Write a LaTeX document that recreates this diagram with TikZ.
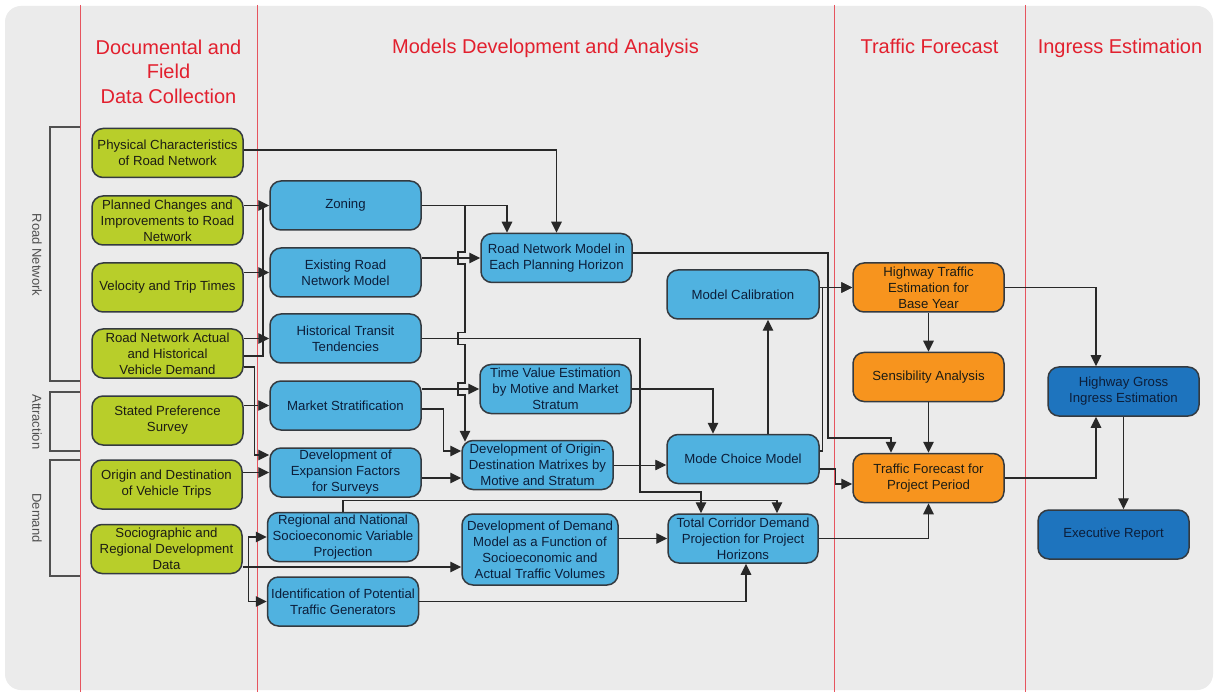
\documentclass[tikz,border=0pt]{standalone}
\usepackage{fontspec}
\setmainfont{Liberation Sans}
\usetikzlibrary{arrows.meta,calc}

\definecolor{panel}{RGB}{235,235,235}
\definecolor{lanered}{RGB}{230,84,94}
\definecolor{headred}{RGB}{226,32,46}
\definecolor{greenfill}{RGB}{184,206,42}
\definecolor{bluefill}{RGB}{80,178,224}
\definecolor{orangefill}{RGB}{247,148,30}
\definecolor{navyfill}{RGB}{30,116,190}
\definecolor{edge}{RGB}{52,58,64}
\definecolor{wire}{RGB}{40,40,40}
\definecolor{bracketgray}{RGB}{80,80,80}
\definecolor{textdark}{RGB}{28,28,20}
\definecolor{textnavy}{RGB}{12,30,58}

\tikzset{
  box/.style={draw=edge, line width=1.5pt, rounded corners=11pt,
    minimum width=151pt, minimum height=49pt, inner sep=0pt, align=center,
    font=\fontsize{13.2}{16}\selectfont},
  gbox/.style={box, fill=greenfill, text=textdark},
  bbox/.style={box, fill=bluefill, text=textnavy},
  obox/.style={box, fill=orangefill, text=textdark},
  nbox/.style={box, fill=navyfill, text=textnavy},
  headmulti/.style={text=headred, inner sep=0pt, align=center,
    font=\fontsize{20}{24.5}\selectfont},
  headone/.style={text=headred, inner sep=0pt, anchor=base,
    font=\fontsize{20}{24}\selectfont},
  side/.style={text=bracketgray, inner sep=0pt, rotate=-90,
    font=\fontsize{13}{16}\selectfont},
  lane/.style={draw=lanered, line width=1pt},
  brk/.style={draw=bracketgray, line width=1.2pt},
  wireline/.style={draw=wire, line width=1.3pt},
  arr/.style={wireline, -{Triangle[length=11pt,width=10.5pt]}},
  thinarr/.style={draw=wire, line width=0.8pt, -{Triangle[length=11pt,width=10.5pt]}},
}

\begin{document}
\begin{tikzpicture}[x=1pt, y=-1pt]
\useasboundingbox (0,0) rectangle (1215,692);
\fill[white] (0,0) rectangle (1215,692);
\fill[panel, rounded corners=16pt] (5,6) rectangle (1213,690);

% lane separators
\draw[lane] (80,5) -- (80,692);
\draw[lane] (257,5) -- (257,692);
\draw[lane] (834,5) -- (834,692);
\draw[lane] (1025,5) -- (1025,692);

% lane headings
\node[headmulti] (hdata) at (168.5,71.5) {Documental and\\Field\\Data Collection};
\node[headone] (hmodels) at (545.5,54) {Models Development and Analysis};
\node[headone] (hforecast) at (929.5,54) {Traffic Forecast};
\node[headone] (hingress) at (1120,54) {Ingress Estimation};

% category brackets
\draw[brk] (80,127) -- (50,127) -- (50,381) -- (80,381);
\draw[brk] (80,392) -- (50,392) -- (50,451) -- (80,451);
\draw[brk] (80,460) -- (50,460) -- (50,576) -- (80,576);
\node[side] (lroad) at (37,255) {Road Network};
\node[side] (lattr) at (37,422) {Attraction};
\node[side] (ldem) at (37,518) {Demand};

% data collection
\node[gbox] (g1) at (167.5,153) {Physical Characteristics\\of Road Network};
\node[gbox] (g2) at (167.5,220.5) {Planned Changes and\\Improvements to Road\\Network};
\node[gbox] (g3) at (167.5,287.5) {Velocity and Trip Times};
\node[gbox] (g4) at (167.5,353.5) {Road Network Actual\\and Historical\\Vehicle Demand};
\node[gbox] (g5) at (167.5,420.5) {Stated Preference\\Survey};
\node[gbox] (g6) at (166.5,484.5) {Origin and Destination\\of Vehicle Trips};
\node[gbox] (g7) at (166.5,549) {Sociographic and\\Regional Development\\Data};

% models: first column
\node[bbox] (b1) at (345.5,205.5) {Zoning};
\node[bbox] (b2) at (345.5,272.5) {Existing Road\\Network Model};
\node[bbox] (b3) at (345.5,338.5) {Historical Transit\\Tendencies};
\node[bbox] (b4) at (345.5,405.5) {Market Stratification};
\node[bbox] (b5) at (345.5,472.5) {Development of\\Expansion Factors\\for Surveys};
\node[bbox] (b6) at (343,537) {Regional and National\\Socioeconomic Variable\\Projection};
\node[bbox] (b7) at (343,601.5) {Identification of Potential\\Traffic Generators};

% models: second column
\node[bbox] (c1) at (556.5,258) {Road Network Model in\\Each Planning Horizon};
\node[bbox] (c2) at (555.5,389) {Time Value Estimation\\by Motive and Market\\Stratum};
\node[bbox] (c3) at (537.5,465) {Development of Origin-\\Destination Matrixes by\\Motive and Stratum};
\node[bbox, minimum width=156pt, minimum height=71pt] (c4) at (540,549.5)
  {Development of Demand\\Model as a Function of\\Socioeconomic and\\Actual Traffic Volumes};

% models: third column
\node[bbox, minimum width=152pt] (d1) at (743,294.5) {Model Calibration};
\node[bbox, minimum width=152pt] (d2) at (743,459) {Mode Choice Model};
\node[bbox, minimum width=150pt] (d3) at (743,538.5) {Total Corridor Demand\\Projection for Project\\Horizons};

% traffic forecast
\node[obox] (o1) at (928.5,287.5) {Highway Traffic\\Estimation for\\Base Year};
\node[obox] (o2) at (928.5,377) {Sensibility Analysis};
\node[obox] (o3) at (928.5,478) {Traffic Forecast for\\Project Period};

% ingress estimation
\node[nbox] (h1) at (1123.5,391.5) {Highway Gross\\Ingress Estimation};
\node[nbox] (h2) at (1113.5,534.5) {Executive Report};

% shared riser feeding the first three models
\coordinate (bus) at (263,205.5);

% data collection -> models
\draw[arr] ([yshift=3pt]g1.east) -| (c1.north);
\draw[arr] (g2.east |- b1.west) -- (b1.west);
\draw[arr] (g3.east |- b2.west) -- (b2.west);
\draw[arr] (g4.east |- b3.west) -- (b3.west);
\draw[wireline] ([yshift=-2.5pt]g4.east) -| (bus);
\draw[arr] ([yshift=-13.5pt]g4.east) -- ++(11,0) |- ([yshift=17.5pt]b5.west);
\draw[thinarr] (g5.east |- b4.west) -- (b4.west);
\draw[arr] (g6.east |- b5.west) -- (b5.west);
\draw[arr] ([yshift=-18pt]g7.east) -- ([yshift=-17.5pt]c4.west);
\draw[arr] ([yshift=-18pt]g7.east) -- ++(6,0) |- (b6.west);
\draw[arr] ([yshift=-18pt]g7.east) -- ++(6,0) |- (b7.west);

% zoning feeds, with line jumps on the long riser
\draw[arr] (b1.east) -| ([xshift=-49.5pt]c1.north);
\draw[arr] (b1.east) -- (465,205.5) -- (465,252) -- (458,252) -- (458,264) -- (465,264)
  -- (465,332.5) -- (458,332.5) -- (458,344.5) -- (465,344.5)
  -- (465,383) -- (458,383) -- (458,395) -- (465,395)
  -- ([xshift=-72.5pt,yshift=-2pt]c3.north);

\draw[arr] (b2.east |- c1.west) -- (c1.west);
\draw[arr] (b3.east) -| (640,492) -| ([xshift=-42pt]d3.north);
\draw[arr] (b4.east |- c2.west) -- (c2.west);
\draw[arr] ([yshift=-3.5pt]b4.east) -- ++(22,0) |- ([yshift=14pt]c3.west);
\draw[arr] ([yshift=-5.5pt]b5.east) -- ([yshift=-13pt]c3.west);
\draw[arr] (b6.north) -- ++(0,-11) -| ([xshift=34pt]d3.north);
\draw[arr] (b7.east) -| ([xshift=3pt]d3.south);

% inner model links
\draw[arr] (c2.east) -| ([xshift=-30pt]d2.north);
\draw[thinarr] (c3.east) -- (c3.east -| d2.west);
\draw[arr] (c4.east |- d3.west) -- (d3.west);
\draw[arr] ([xshift=25pt]d2.north) -- ([xshift=25pt]d1.south);

% models -> traffic forecast
\draw[arr] ([yshift=5pt]c1.east) -| (828,438) -| ([xshift=-37.5pt]o3.north);
\draw[arr] (d1.east |- o1.west) -- (o1.west);
\draw[arr] ([yshift=8pt]d2.east) -- ++(3,0) |- (o1.west);
\draw[arr] ([yshift=-10pt]d2.east) -- ++(16,0) |- ([yshift=-6pt]o3.west);
\draw[arr] (d3.east) -| (o3.south);
\draw[arr] (o1.south) -- (o2.north);
\draw[arr] (o2.south) -- (o3.north);

% traffic forecast -> ingress estimation
\draw[arr] (o1.east) -| ([xshift=-27.5pt]h1.north);
\draw[arr] (o3.east) -| ([xshift=-27.5pt]h1.south);
\draw[arr] (h1.south) -- ([xshift=10pt]h2.north);
\end{tikzpicture}
\end{document}
